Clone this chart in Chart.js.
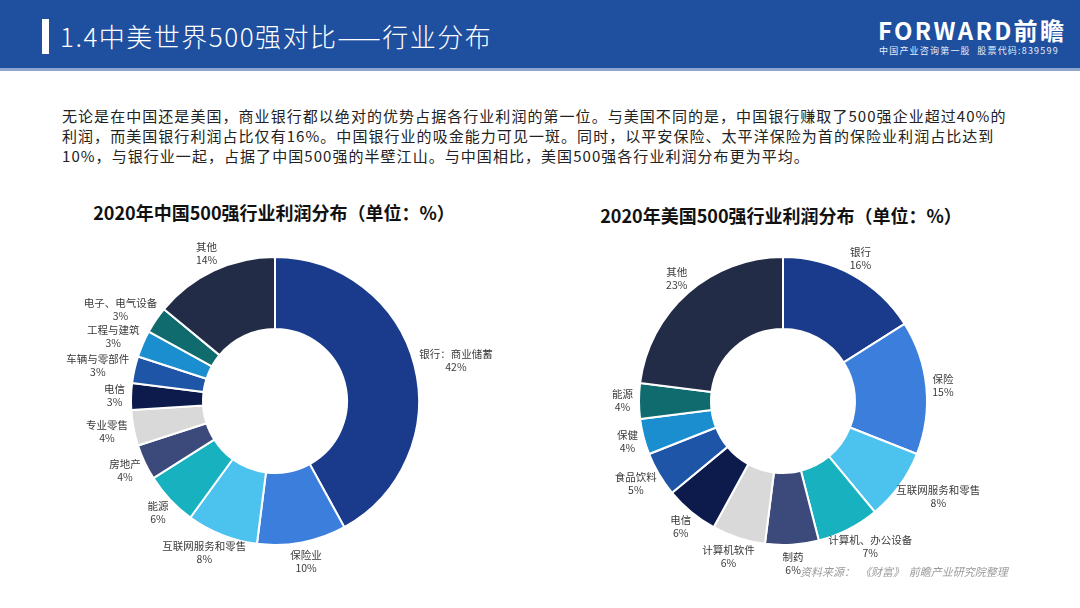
<!DOCTYPE html>
<html>
<head>
<meta charset="utf-8">
<title>中美世界500强对比——行业分布</title>
<script src="https://cdn.jsdelivr.net/npm/chart.js"></script>
<style>
  body { margin: 0; width: 1080px; height: 608px; background: #fff; position: relative; overflow: hidden;
         font-family: "Noto Sans CJK SC", "Noto Sans", sans-serif; }
  .header { position: absolute; left: 0; top: 0; width: 1080px; height: 68px; background: #1f4f9f;
            border-bottom: 3px solid #8fa6cf; }
  .bar { position: absolute; left: 42px; top: 19px; width: 7px; height: 35px; background: #fff; }
  .title { position: absolute; left: 60px; top: 17px; color: #fff; font-size: 26px; font-weight: 300; line-height: 38px; letter-spacing: 1.5px; }
  .logo { position: absolute; left: 878px; top: 16px; color: #fff; font-size: 24px; font-weight: bold; line-height: 28px; letter-spacing: 2.3px; }
  .logo-sub { position: absolute; left: 879px; top: 45px; color: #e8eef8; font-size: 9px; line-height: 11px; letter-spacing: 1.2px; }
  .para { position: absolute; left: 62px; top: 106px; color: #222; font-size: 15px; line-height: 20px; letter-spacing: 1.05px; }
  .ctitle { position: absolute; font-size: 18px; font-weight: bold; color: #111; text-align: center; width: 460px; }
  .box { position: absolute; top: 226px; height: 350px; }
  .source { position: absolute; left: 800px; top: 563px; font-size: 11px; color: #9a9a9a; font-style: italic; }
</style>
</head>
<body>
<div class="header">
  <div class="bar"></div>
  <div class="title">1.4中美世界500强对比——行业分布</div>
  <div class="logo">FORWARD前瞻</div>
  <div class="logo-sub">中国产业咨询第一股&nbsp;&nbsp;股票代码:839599</div>
</div>
<div class="para">
无论是在中国还是美国，商业银行都以绝对的优势占据各行业利润的第一位。与美国不同的是，中国银行赚取了500强企业超过40%的<br>
利润，而美国银行利润占比仅有16%。中国银行业的吸金能力可见一斑。同时，以平安保险、太平洋保险为首的保险业利润占比达到<br>
10%，与银行业一起，占据了中国500强的半壁江山。与中国相比，美国500强各行业利润分布更为平均。
</div>
<div class="ctitle" style="left:44px; top:199px;">2020年中国500强行业利润分布（单位：%）</div>
<div class="ctitle" style="left:551px; top:202px;">2020年美国500强行业利润分布（单位：%）</div>
<div class="box" style="left:40px; width:470px;"><canvas id="cnChart"></canvas></div>
<div class="box" style="left:560px; width:446px;"><canvas id="usChart"></canvas></div>
<div class="source">资料来源：&nbsp;&nbsp;《财富》&nbsp;&nbsp;前瞻产业研究院整理</div>

<script>
const cnLabels = ['银行：商业储蓄', '保险业', '互联网服务和零售', '能源', '房地产', '专业零售', '电信', '车辆与零部件', '工程与建筑', '电子、电气设备', '其他'];
const cnValues = [42, 10, 8, 6, 4, 4, 3, 3, 3, 3, 14];

const usLabels = ['银行', '保险', '互联网服务和零售', '计算机、办公设备', '制药', '计算机软件', '电信', '食品饮料', '保健', '能源', '其他'];
const usValues = [16, 15, 8, 7, 6, 6, 6, 5, 4, 4, 23];

const sliceColors = ['#1a3a8c', '#3b7edb', '#4cc2ef', '#17b1bf', '#3b4a7b', '#d9d9d9', '#0c1b4b', '#1e55a7', '#1a8ecf', '#0f6b6d', '#232c47'];

// draws "name / xx%" outside each slice
const outsideLabels = {
  id: 'outsideLabels',
  afterDraw(chart) {
    const ctx = chart.ctx;
    const meta = chart.getDatasetMeta(0);
    const ds = chart.data.datasets[0];
    ctx.save();
    ctx.font = '10.5px "Noto Sans CJK SC", sans-serif';
    ctx.fillStyle = '#3a3a3a';
    ctx.textAlign = 'center';
    ctx.textBaseline = 'middle';
    meta.data.forEach((arc, i) => {
      const mid = (arc.startAngle + arc.endAngle) / 2;
      const dx = Math.cos(mid), dy = Math.sin(mid);
      const r = arc.outerRadius + 6;
      const lines = [chart.data.labels[i], ds.data[i] + '%'];
      const w = Math.max(...lines.map(t => ctx.measureText(t).width));
      const h = 26;
      const cx = arc.x + dx * r + dx * w / 2;
      const cy = arc.y + dy * r + dy * h / 2;
      ctx.fillText(lines[0], cx, cy - 6.5);
      ctx.fillText(lines[1], cx, cy + 6.5);
    });
    ctx.restore();
  }
};

function makeDonut(id, labels, values) {
  return new Chart(document.getElementById(id), {
    type: 'doughnut',
    data: {
      labels: labels,
      datasets: [{
        data: values,
        backgroundColor: sliceColors,
        borderColor: '#fff',
        borderWidth: 2
      }]
    },
    options: {
      responsive: true,
      maintainAspectRatio: false,
      animation: false,
      cutout: '50%',
      layout: { padding: { top: 30, bottom: 30, left: 20, right: 20 } },
      plugins: { legend: { display: false }, tooltip: { enabled: false } }
    },
    plugins: [outsideLabels]
  });
}

makeDonut('cnChart', cnLabels, cnValues);
makeDonut('usChart', usLabels, usValues);
</script>
</body>
</html>
